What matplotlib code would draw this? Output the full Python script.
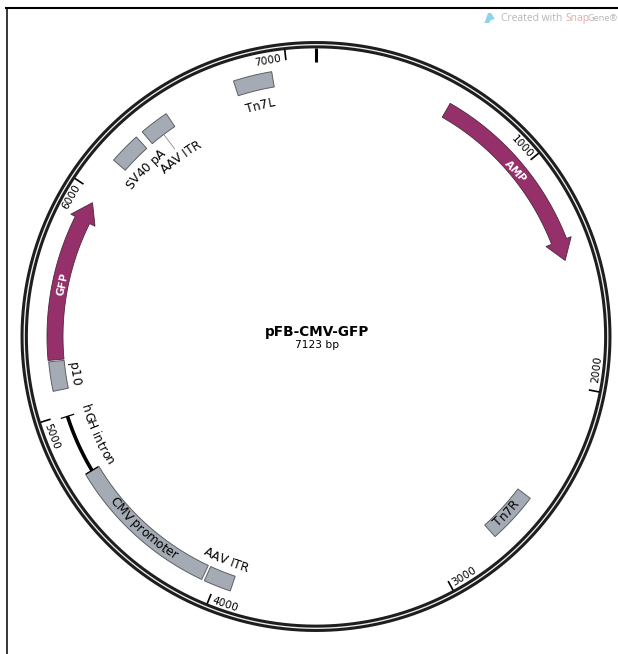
# pFB-CMV-GFP plasmid map, SnapGene style

import numpy as np
import matplotlib
matplotlib.use("Agg")
import matplotlib.pyplot as plt
from matplotlib.font_manager import FontProperties
from matplotlib.lines import Line2D
from matplotlib.patches import Polygon
from matplotlib.textpath import TextPath

W, H = 618, 654
CX, CY, RMAX = 316.0, 336.5, 300.0
TOTAL_BP = 7123

# --- Data ---
plasmid_name = "pFB-CMV-GFP"
plasmid_size = "7123 bp"

tick_bp = [1000, 2000, 3000, 4000, 5000, 6000, 7000]

box_names = ["Tn7R", "AAV ITR", "CMV promoter", "p10", "SV40 pA", "AAV ITR", "Tn7L"]
box_start = [2514, 3930, 4060, 5109, 6155, 6325, 6769]
box_end = [2734, 4048, 4732, 5235, 6292, 6452, 6935]

arrow_names = ["AMP", "GFP"]
arrow_tail = [592, 5241]
arrow_tip = [1445, 5954]

intron_name = "hGH intron"
intron_start = 4731
intron_end = 4990

# label anchors: angle (deg clockwise from top), radius (px)
tick_label_angle = [47.3, 96.7, 148.3, 198.8, 249.3, 299.7, 350.1]
tick_label_radius = [280, 283, 282, 283, 283, 282, 280]

box_label_angle = [132.8, 201.9, 222.0, 261.3, 314.5, 323.0, 346.4]
box_label_radius = [259, 241, 260, 244, 240, 226, 238.5]

arrow_label_angle = [50.3, 281.7]
arrow_label_radius = [259, 259.5]

intron_label_angle = 245.8
intron_label_radius = 241

PURPLE = "#96306a"
GREY = "#a5abb5"
EDGE = "#5c5f66"
RING = "#1e1e1e"


def bp2t(bp):
    return np.asarray(bp) / TOTAL_BP * 2 * np.pi


def arc(a, b, n=60):
    return np.linspace(a, b, n)


def fx(px):
    return px / W


def fy(py):
    return 1 - py / H


def upright(deg):
    deg = deg % 360
    return 180 - deg if 90 < deg < 270 else -deg


def label(ax, text, deg, r, size=8.8, color="black", weight="normal"):
    # text bent along the circle, one glyph at a time
    fp = FontProperties(family="DejaVu Sans", size=size, weight=weight)
    px = size * 100 / 72
    bar = TextPath((0, 0), "|", prop=fp, size=px).get_extents().x1
    adv = [TextPath((0, 0), c + "|", prop=fp, size=px).get_extents().x1 - bar for c in text]
    adv = [0.97 * (a if c != " " else 0.318 * px) for a, c in zip(adv, text)]
    bottom = 90 < deg % 360 < 270
    base = r + 0.36 * px if bottom else r - 0.36 * px
    pos = -sum(adv) / 2
    for c, a in zip(text, adv):
        d = np.degrees((pos + a / 2) / r)
        th = deg - d if bottom else deg + d
        ax.text(np.radians(th), base, c, fontproperties=fp, color=color, ha="center",
                va="baseline", rotation=upright(th), rotation_mode="anchor", zorder=5)
        pos += a


fig = plt.figure(figsize=(W / 100, H / 100), dpi=100, facecolor="white")
ax = fig.add_axes([fx(CX - RMAX), fy(CY + RMAX), 2 * RMAX / W, 2 * RMAX / H], projection="polar")
ax.set_theta_zero_location("N")
ax.set_theta_direction(-1)
ax.set_rlim(0, RMAX)
ax.axis("off")

# --- Backbone ring ---
ring_t = arc(0, 2 * np.pi, 720)
ax.plot(ring_t, np.full(720, 291.8), color=RING, lw=5.3, solid_capstyle="butt")
ax.plot(ring_t, np.full(720, 291.8), color="#eeeeee", lw=0.95, solid_capstyle="butt")

# --- Ticks ---
ax.plot([0, 0], [275, 288.5], color="black", lw=2.2, solid_capstyle="butt")
for bp in tick_bp:
    ax.plot([bp2t(bp)] * 2, [278, 288.5], color="black", lw=1.2, solid_capstyle="butt")
for bp, deg, r in zip(tick_bp, tick_label_angle, tick_label_radius):
    ax.text(np.radians(deg), r, str(bp), fontsize=7.6, ha="center", va="center",
            rotation=upright(deg), rotation_mode="anchor", family="DejaVu Sans")

# --- Box features ---
for s, e in zip(box_start, box_end):
    t = arc(bp2t(s), bp2t(e))
    ax.fill(np.r_[t, t[::-1]], np.r_[np.full(60, 268.5), np.full(60, 253.0)],
            facecolor=GREY, edgecolor=EDGE, lw=0.7, zorder=3)

# --- Arrow features (both run clockwise) ---
HEAD = np.radians(4.4)
for tail, tip in zip(arrow_tail, arrow_tip):
    t0, t1 = bp2t(tail), bp2t(tip)
    t = arc(t0, t1 - HEAD)
    th = np.r_[t, t1 - HEAD, t1, t1 - HEAD, t[::-1]]
    rr = np.r_[np.full(60, 269), 274, 260.5, 247, np.full(60, 253)]
    ax.fill(th, rr, facecolor=PURPLE, edgecolor="#4a2a3c", lw=0.6, zorder=3)

# --- hGH intron bar with end caps ---
t = arc(bp2t(intron_start), bp2t(intron_end))
ax.plot(t, np.full(60, 261.0), color="black", lw=2.6, solid_capstyle="butt", zorder=3)
for bp in (intron_start, intron_end):
    ax.plot([bp2t(bp)] * 2, [254, 268], color="black", lw=0.9, solid_capstyle="butt", zorder=3)

# --- Labels ---
for name, deg, r in zip(box_names, box_label_angle, box_label_radius):
    label(ax, name, deg, r)
for name, deg, r in zip(arrow_names, arrow_label_angle, arrow_label_radius):
    label(ax, name, deg, r, size=7.6, color="white", weight="bold")
label(ax, intron_name, intron_label_angle, intron_label_radius)

# leader from the upper AAV ITR to its label
ax.plot([np.radians(323.0)] * 2, [235, 252], color="#9a9a9a", lw=0.7)

# --- Centre text ---
fig.text(fx(317), fy(332), plasmid_name, fontsize=9.8, fontweight="bold", ha="center", va="center",
         family="DejaVu Sans")
fig.text(fx(317), fy(345), plasmid_size, fontsize=7.7, ha="center", va="center", family="DejaVu Sans")

# --- Frame ---
fig.add_artist(Line2D([fx(5.5), 1], [fy(8), fy(8)], color="black", lw=1.5))
fig.add_artist(Line2D([fx(6.5), fx(6.5)], [fy(8), 0], color="black", lw=1.1))

# --- Watermark ---
fig.text(fx(501), fy(18.5), "Created with", fontsize=7.4, color="#b4b6b8", va="center", family="Open Sans")
fig.text(fx(565), fy(18.5), "Snap", fontsize=7.4, color="#e6a9a2", va="center", family="Open Sans")
fig.text(fx(587.5), fy(18.5), "Gene®", fontsize=6.6, color="#b4b6b8", va="center", family="Open Sans")
logo = [(484.5, 23), (488, 13), (491, 13), (495, 19), (491, 20), (489, 23)]
fig.add_artist(Polygon([(fx(x), fy(y)) for x, y in logo], closed=True, facecolor="#8ed3ea",
                       edgecolor="none", transform=fig.transFigure))

fig.savefig("out.png", dpi=100)
